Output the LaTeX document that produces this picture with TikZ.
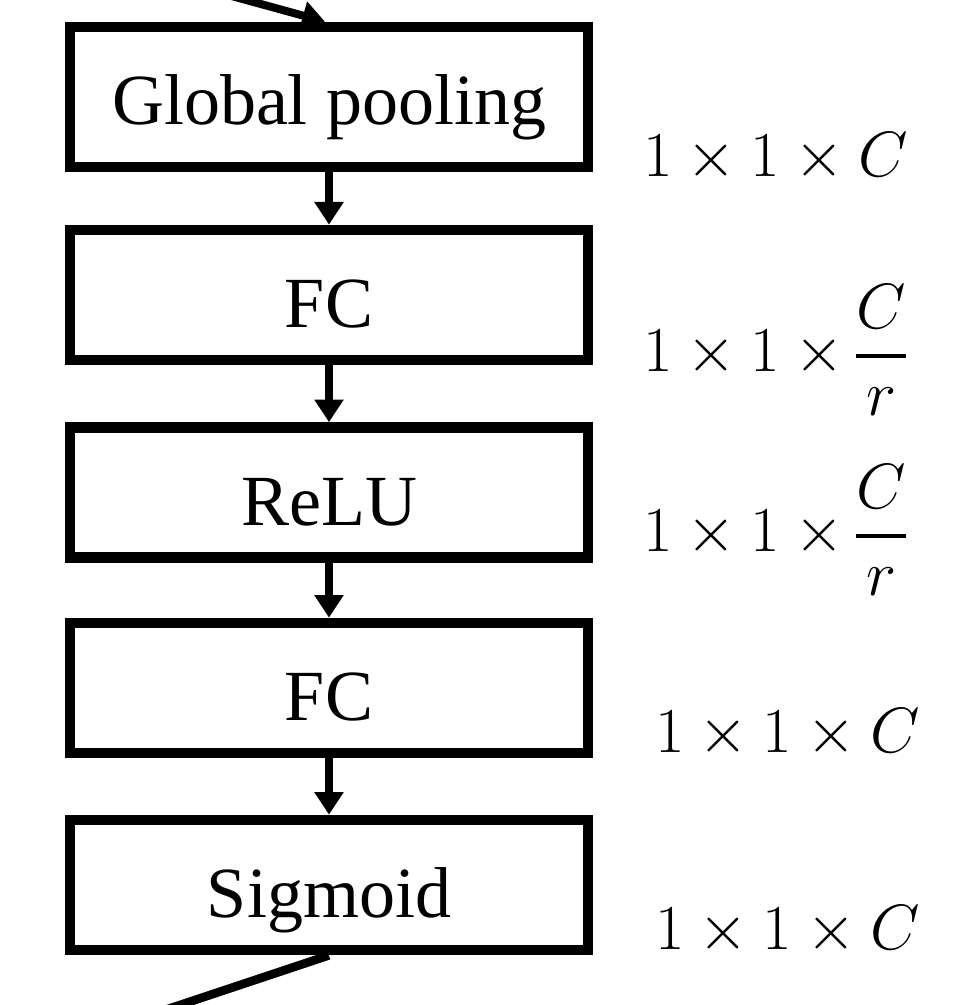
\RequirePackage{fix-cm}
\documentclass[tikz,border=0pt]{standalone}
\usepackage{amsmath}
\usepackage[no-math]{fontspec}
\setmainfont{Liberation Serif}
\usetikzlibrary{arrows.meta}
\begin{document}
\begin{tikzpicture}[x=0.75pt,y=-0.75pt,
  stage/.style={draw=black,line width=8pt,minimum width=388.5pt,minimum height=97.5pt,inner sep=0pt,
    text height=49pt,text depth=0pt,font=\fontsize{54}{60}\selectfont},
  flow/.style={line width=6pt,-{Triangle[length=17pt,width=21pt]}},
  dimlabel/.style={font=\fontsize{48}{54}\selectfont,inner sep=0pt,anchor=west}]
\useasboundingbox (0,0) rectangle (968,1005);
\node[stage,minimum height=105pt,text height=42pt] (gp) at (329,97) {Global pooling};
\node[stage] (fc1) at (329,295) {FC};
\node[stage] (relu) at (329,492.5) {ReLU};
\node[stage] (fc2) at (329,688) {FC};
\node[stage] (sig) at (329,885) {Sigmoid};
\coordinate (inc) at (217,-8);
\coordinate (out) at (150,1015);
\draw[flow] (inc) -- ([xshift=-3pt]gp.north);
\draw[flow] (gp.south) -- (fc1.north);
\draw[flow] (fc1.south) -- (relu.north);
\draw[flow] (relu.south) -- (fc2.north);
\draw[flow] (fc2.south) -- (sig.north);
\draw[line width=6.5pt] (sig.south) -- (out);
\node[dimlabel] (l1) at (643,157) {$1\times1\times C$};
\node[dimlabel] (l2) at (643,350) {$1\times1\times\mkern-1mu\genfrac{}{}{3pt}{0}{C}{r}$};
\node[dimlabel] (l3) at (643,530) {$1\times1\times\mkern-1mu\genfrac{}{}{3pt}{0}{C}{r}$};
\node[dimlabel] (l4) at (655,733) {$1\times1\times C$};
\node[dimlabel] (l5) at (655,930) {$1\times1\times C$};
\end{tikzpicture}
\end{document}
